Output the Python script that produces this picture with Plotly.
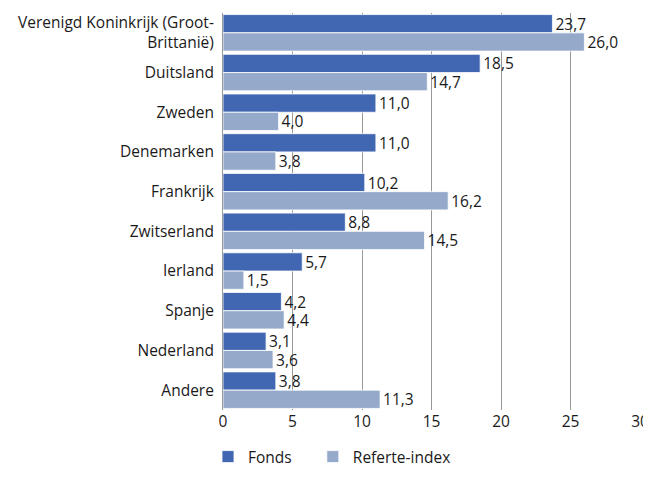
import plotly.graph_objects as go

categories = ["Verenigd Koninkrijk (Groot-<br>Brittanië)", "Duitsland", "Zweden", "Denemarken",
              "Frankrijk", "Zwitserland", "Ierland", "Spanje", "Nederland", "Andere"]
fonds = [23.7, 18.5, 11.0, 11.0, 10.2, 8.8, 5.7, 4.2, 3.1, 3.8]
index = [26.0, 14.7, 4.0, 3.8, 16.2, 14.5, 1.5, 4.4, 3.6, 11.3]

def fmt(v):
    return f"{v:.1f}".replace(".", ",")

FONT = "Open Sans, Noto Sans, sans-serif"
TXT = "#1a1a1a"

W, H = 643, 463

fig = go.Figure()
fig.add_trace(go.Bar(y=categories, x=fonds, orientation="h", name="Fonds" + "\u00a0" * 4,
                     marker=dict(color="#4267B2", line=dict(color="#FFFFFF", width=0.8)),
                     text=[fmt(v) for v in fonds], textposition="outside", constraintext="none",
                     textfont=dict(size=15.5, color=TXT, family=FONT), cliponaxis=False))
fig.add_trace(go.Bar(y=categories, x=index, orientation="h", name="Referte-index",
                     marker=dict(color="#95AACB", line=dict(color="#FFFFFF", width=0.8)),
                     text=[fmt(v) for v in index], textposition="outside", constraintext="none",
                     textfont=dict(size=15.5, color=TXT, family=FONT), cliponaxis=False))

fig.update_layout(
    width=W, height=H,
    margin=dict(l=215, r=11, t=5, b=61),
    barmode="group", bargap=0.08, bargroupgap=0,
    plot_bgcolor="white", paper_bgcolor="white",
    font=dict(family=FONT, size=15.5, color=TXT),
    showlegend=True,
    legend=dict(orientation="h", xref="container", yref="container", xanchor="left",
                x=200 / W, y=1 - 449 / H, yanchor="middle", font=dict(size=15.5),
                bgcolor="rgba(0,0,0,0)", traceorder="normal"),
    uniformtext=dict(mode=False),
)
fig.update_xaxes(range=[0, 30], dtick=5, showgrid=True, gridcolor="#999999", gridwidth=1,
                 zeroline=False, showline=False, ticks="", tickfont=dict(size=15.5),
                 ticklabeloverflow="allow", automargin=False)
fig.update_yaxes(autorange="reversed", showline=True, linecolor="#999999", linewidth=1,
                 ticks="", tickfont=dict(size=15.5), ticklabelstandoff=5, automargin=False)

fig.write_html("out.html")
